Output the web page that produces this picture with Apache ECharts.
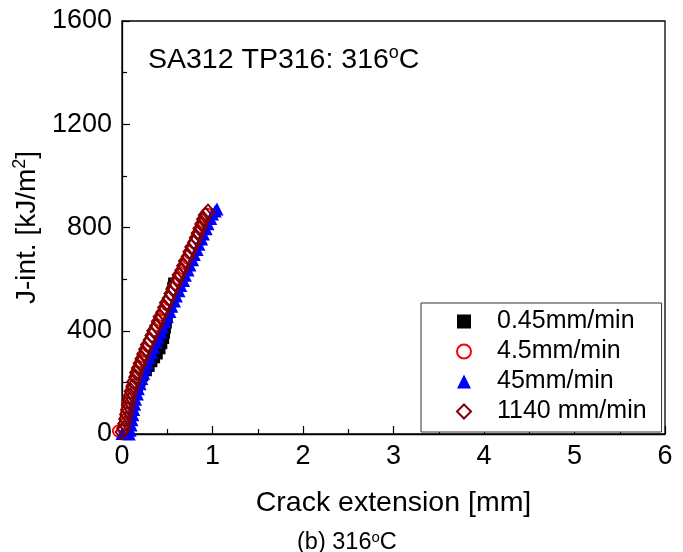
<!DOCTYPE html>
<html>
<head>
<meta charset="utf-8">
<script src="https://cdn.jsdelivr.net/npm/echarts@6/dist/echarts.min.js"></script>
<style>
  html, body { margin: 0; padding: 0; background: #fff; }
  #chart { width: 683px; height: 552px; }
</style>
</head>
<body>
<div id="chart"></div>
<script>
// J-R curve test records: [crack extension (mm), J-integral (kJ/m^2)]
const seriesNames = ['0.45mm/min', '4.5mm/min', '45mm/min', '1140 mm/min'];

const rate045 = [
  [0.03, 5], [0.05, 25], [0.06, 45], [0.08, 70], [0.09, 90], [0.11, 115],
  [0.12, 135], [0.14, 160], [0.17, 185], [0.20, 205], [0.23, 225], [0.27, 245],
  [0.30, 262], [0.33, 280], [0.36, 295], [0.39, 310], [0.42, 330], [0.44, 350],
  [0.46, 370], [0.47, 390], [0.48, 410], [0.49, 430], [0.50, 450], [0.51, 470],
  [0.52, 490], [0.53, 510], [0.54, 530], [0.55, 550], [0.56, 568], [0.57, 585]
];

const rate45 = [
  [-0.04, 12], [0.01, 22], [0.03, 40], [0.04, 60], [0.05, 80], [0.06, 100],
  [0.07, 120], [0.08, 140], [0.10, 160], [0.11, 180], [0.13, 200], [0.15, 220],
  [0.17, 240], [0.19, 260], [0.21, 280], [0.23, 300], [0.26, 320], [0.29, 340],
  [0.31, 360], [0.34, 380], [0.36, 400], [0.39, 420], [0.42, 440], [0.44, 460],
  [0.47, 480], [0.50, 500], [0.52, 520], [0.55, 540], [0.58, 560], [0.60, 580],
  [0.63, 600], [0.65, 620], [0.68, 640], [0.70, 660], [0.73, 680], [0.75, 700],
  [0.78, 720], [0.80, 740], [0.83, 760], [0.85, 780], [0.88, 800], [0.90, 820],
  [0.92, 838], [0.94, 852]
];

const rate450 = [
  [0.00, 2], [0.08, 0], [0.09, 15], [0.10, 35], [0.11, 55], [0.12, 75],
  [0.13, 95], [0.14, 115], [0.15, 135], [0.17, 155], [0.18, 175], [0.20, 195],
  [0.22, 215], [0.24, 235], [0.26, 255], [0.28, 275], [0.30, 295], [0.33, 315],
  [0.35, 335], [0.38, 355], [0.40, 375], [0.43, 395], [0.45, 415], [0.48, 435],
  [0.50, 455], [0.53, 475], [0.55, 495], [0.58, 515], [0.60, 535], [0.63, 555],
  [0.65, 575], [0.68, 595], [0.70, 615], [0.73, 635], [0.75, 655], [0.78, 675],
  [0.80, 695], [0.83, 715], [0.85, 735], [0.88, 755], [0.90, 775], [0.93, 795],
  [0.95, 815], [0.98, 835], [1.00, 852], [1.03, 864], [1.05, 872]
];

const rate1140 = [
  [0.00, 8], [0.02, 22], [0.03, 40], [0.04, 58], [0.05, 76], [0.06, 94],
  [0.07, 112], [0.08, 130], [0.09, 148], [0.10, 166], [0.12, 184], [0.13, 202],
  [0.15, 220], [0.16, 238], [0.18, 256], [0.20, 274], [0.22, 292], [0.24, 310],
  [0.26, 328], [0.28, 346], [0.31, 364], [0.33, 382], [0.35, 400], [0.38, 418],
  [0.40, 436], [0.42, 454], [0.45, 472], [0.47, 490], [0.49, 508], [0.52, 526],
  [0.54, 544], [0.56, 562], [0.59, 580], [0.61, 598], [0.63, 616], [0.66, 634],
  [0.68, 652], [0.70, 670], [0.73, 688], [0.75, 706], [0.77, 724], [0.80, 742],
  [0.82, 760], [0.84, 778], [0.86, 796], [0.88, 814], [0.90, 832], [0.92, 848],
  [0.95, 860]
];

const xTicks = [0, 1, 2, 3, 4, 5, 6];
const yTicks = [0, 400, 800, 1200, 1600];

const FONT = 'Arial, "Liberation Sans", sans-serif';
const chart = echarts.init(document.getElementById('chart'), null, { renderer: 'canvas' });

const supRich = (size, supSize, raise) => ({
  a: { fontFamily: FONT, fontSize: size, fontWeight: 'normal', color: '#000' },
  s: { fontFamily: FONT, fontSize: supSize, fontWeight: 'normal', color: '#000', padding: [0, 0, raise, 0] }
});

const option = {
  backgroundColor: '#fff',
  animation: false,
  textStyle: { fontFamily: FONT },
  grid: {
    left: 122, right: 18, top: 21, bottom: 118,
    show: true, borderColor: '#000', borderWidth: 1.3, backgroundColor: 'transparent'
  },
  title: [
    {
      text: '{a|SA312 TP316: 316}{s|o}{a|C}',
      left: 143, top: 39,
      textStyle: { rich: supRich(28.5, 18, 15) }
    },
    {
      text: '{a|(b) 316}{s|o}{a|C}',
      left: 292, top: 525,
      textStyle: { rich: supRich(23.5, 15, 10) }
    }
  ],
  legend: {
    orient: 'vertical',
    left: 421, top: 303,
    padding: [6, 15, 8, 35],
    itemGap: 5,
    itemWidth: 14, itemHeight: 14,
    backgroundColor: '#fff',
    borderColor: '#333',
    borderWidth: 1,
    borderRadius: 0,
    textStyle: { fontFamily: FONT, fontSize: 25, lineHeight: 25, color: '#000', padding: [0, 0, 0, 21] },
    data: seriesNames
  },
  xAxis: {
    type: 'value',
    min: 0, max: 6, interval: 1,
    name: 'Crack extension [mm]',
    nameLocation: 'middle',
    nameGap: 55,
    nameTextStyle: { fontFamily: FONT, fontSize: 28.5, color: '#000' },
    axisLine: { show: true, onZero: false, lineStyle: { color: '#000', width: 1.3 } },
    axisTick: { show: true, inside: true, length: 8, lineStyle: { color: '#000', width: 1.2 } },
    minorTick: { show: true, splitNumber: 2, length: 5, lineStyle: { color: '#000', width: 1.2 } },
    axisLabel: {
      fontFamily: FONT, fontSize: 27, color: '#000', margin: 9,
      formatter: v => xTicks.includes(v) ? String(v) : ''
    },
    splitLine: { show: false }
  },
  yAxis: {
    type: 'value',
    min: 0, max: 1600, interval: 400,
    name: '{a|J-int. [kJ/m}{s|2}{a|]}',
    nameLocation: 'middle',
    nameRotate: 90,
    nameGap: 73,
    nameTextStyle: { rich: supRich(28, 18, 14) },
    axisLine: { show: true, onZero: false, lineStyle: { color: '#000', width: 1.3 } },
    axisTick: { show: true, inside: true, length: 8, lineStyle: { color: '#000', width: 1.2 } },
    minorTick: { show: true, splitNumber: 2, length: 5, lineStyle: { color: '#000', width: 1.2 } },
    axisLabel: {
      fontFamily: FONT, fontSize: 27, color: '#000', margin: 10,
      formatter: v => yTicks.includes(v) ? String(v) : ''
    },
    splitLine: { show: false }
  },
  series: [
    {
      name: seriesNames[0], type: 'scatter', data: rate045, clip: false,
      symbol: 'rect', symbolSize: 11,
      itemStyle: { color: '#000', opacity: 1 }, z: 2
    },
    {
      name: seriesNames[1], type: 'scatter', data: rate45, clip: false,
      symbol: 'circle', symbolSize: 11,
      itemStyle: { color: '#fff', borderColor: '#ff0000', borderWidth: 1.8, opacity: 1 }, z: 3
    },
    {
      name: seriesNames[2], type: 'scatter', data: rate450, clip: false,
      symbol: 'triangle', symbolSize: 13,
      itemStyle: { color: '#0000ff', opacity: 1 }, z: 4
    },
    {
      name: seriesNames[3], type: 'scatter', data: rate1140, clip: false,
      symbol: 'diamond', symbolSize: [13, 15],
      itemStyle: { color: 'rgba(255,255,255,0)', borderColor: '#800000', borderWidth: 1.8, opacity: 1 }, z: 5
    }
  ]
};

chart.setOption(option);
</script>
</body>
</html>
